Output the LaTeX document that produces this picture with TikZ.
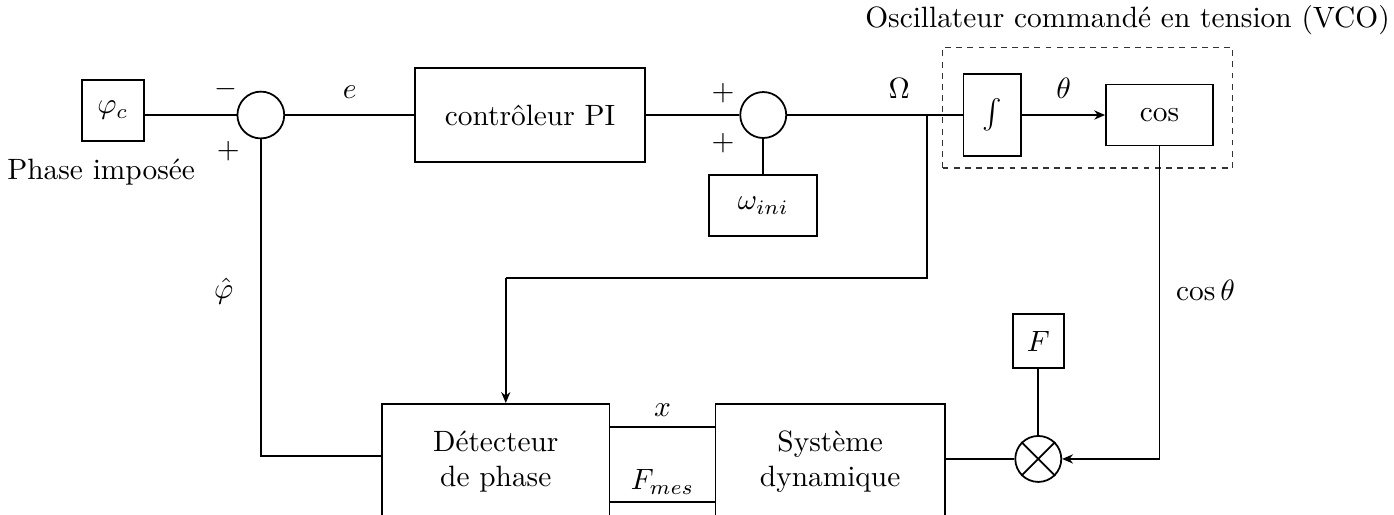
\documentclass[tikz,border=0pt]{standalone}
\usepackage{amsmath}
\usepackage{amssymb}
\usepackage{tikz}
\usetikzlibrary{positioning,arrows.meta,calc}

\begin{document}
\begin{tikzpicture}[
  >={Stealth[length=1.3mm, width=1.1mm]},
  blockbox/.style={
    draw, semithick, inner sep=0pt,
    align=center,
  },
  sumnode/.style={
    draw, semithick, circle, inner sep=0pt,
    minimum size=0.56cm,
  },
  link/.style={draw, semithick},
  sgn/.style={inner sep=1pt},
  vcobox/.style={draw=black!80, thin, dash pattern=on 2pt off 1.8pt,
    minimum width=3.47cm, minimum height=1.44cm, inner sep=0pt},
]

\useasboundingbox (0,0) rectangle (16.675,-6.160);

% === UPPER CHAIN ===
\node[blockbox, minimum width=0.74cm, minimum height=0.73cm] (phic) at (1.35,-1.32) {$\varphi_c$};
\node (phlabel) at (1.21,-2.06) {Phase impos\'ee};
\node[sumnode] (sum1) at (3.12,-1.376) {};
\node[blockbox, minimum width=2.75cm, minimum height=1.12cm] (pi) at (6.34,-1.376) {contr\^oleur PI};
\node[sumnode, minimum size=0.55cm] (sum2) at (9.13,-1.376) {};
\node[blockbox, minimum width=1.29cm, minimum height=0.73cm] (wini) at (9.13,-2.46) {$\omega_{ini}$};

% signs of the summing junctions
\node[sgn] at ($(sum1)+(-0.42,0.31)$) {$-$};
\node[sgn] at ($(sum1)+(-0.39,-0.43)$) {$+$};
\node[sgn] at ($(sum2)+(-0.48,0.26)$) {$+$};
\node[sgn] at ($(sum2)+(-0.48,-0.34)$) {$+$};

% === VCO ===
\node[vcobox] (vco) at (13.01,-1.29) {};
\node[anchor=east, inner sep=0pt] (vcotitle) at (16.63,-0.24) {Oscillateur command\'e en tension (VCO)};
\node[blockbox, minimum width=0.69cm, minimum height=0.98cm] (int) at (11.87,-1.376) {$\int$};
\node[blockbox, minimum width=1.28cm, minimum height=0.73cm] (cos) at (13.87,-1.376) {$\cos$};

% === LOWER CHAIN ===
\node[blockbox, minimum width=2.72cm, minimum height=1.39cm] (det) at (5.93,-5.526) {D\'etecteur\\ de phase};
\node[blockbox, minimum width=2.74cm, minimum height=1.39cm] (sys) at (9.93,-5.526) {Syst\`eme\\dynamique};
\node[sumnode, minimum size=0.55cm] (mult) at (12.42,-5.49) {};
\draw[semithick] (mult.north west) -- (mult.south east);
\draw[semithick] (mult.north east) -- (mult.south west);
\node[blockbox, minimum width=0.61cm, minimum height=0.65cm] (force) at (12.42,-4.08) {$F$};

% --- forward path ---
\coordinate (br) at (11.09,-1.376);
\draw[link] (phic.east |- sum1.west) -- (sum1.west);
\draw[link] (sum1.east) -- (pi.west) node[midway, above=2pt] {$e$};
\draw[link] (pi.east) -- (sum2.west);
\draw[link] (wini.north) -- (sum2.south);
\draw[link] (sum2.east) -- (br) node[pos=0.8, above=2pt] {$\Omega$};
\draw[link] (br) -- (int.west);
\draw[link, ->] (int.east) -- (cos.west) node[midway, above=2pt] {$\theta$};

% --- Omega to phase detector ---
\coordinate (tap) at (6.05,-3.325);
\draw[link] (br) |- (tap);
\draw[link, ->] (tap) -- (tap |- det.north);

% --- cos theta to multiplier ---
\draw[link, ->] (cos.south) |- (mult.east) node[pos=0.23, right=2pt] {$\cos\theta$};
\draw[link] (force.south) -- (mult.north);
\draw[link] (mult.west) -- (sys.east |- mult.west);

% --- detector / system ---
\draw[link] ([yshift=0.42cm]det.east) -- ([yshift=0.42cm]sys.west) node[midway, above] {$x$};
\draw[link] ([yshift=-0.48cm]det.east) -- ([yshift=-0.48cm]sys.west) node[midway, above=-1pt] {$F_{mes}$};

% --- estimated phase back to first junction ---
\draw[link] (sum1.south) |- ([yshift=0.07cm]det.west) node[pos=0.24, left=0.2cm] {$\hat{\varphi}$};

\end{tikzpicture}
\end{document}
